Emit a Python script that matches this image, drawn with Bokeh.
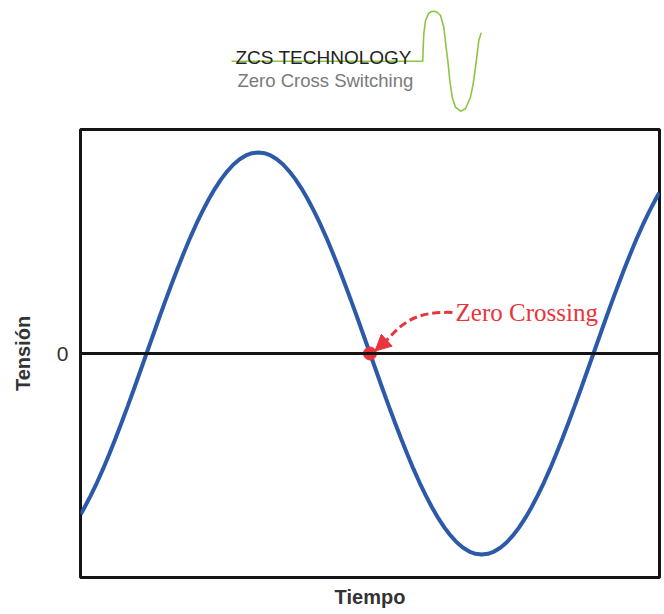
from bokeh.plotting import figure
from bokeh.models import Range1d, Span, FixedTicker, Arrow, NormalHead, Label
from bokeh.layouts import column
from bokeh.embed import file_html
from bokeh.resources import INLINE

# ---------------- data ----------------
# time expressed as phase in degrees, voltage normalised to the peak
time_deg = [-53, -50, -45, -40, -35, -30, -25, -20, -15, -10, -5,
            0, 5, 10, 15, 20, 25, 30, 35, 40, 45, 50, 55, 60, 65, 70, 75, 80, 85, 90,
            95, 100, 105, 110, 115, 120, 125, 130, 135, 140, 145, 150, 155, 160, 165, 170, 175, 180,
            185, 190, 195, 200, 205, 210, 215, 220, 225, 230, 235, 240, 245, 250, 255, 260, 265, 270,
            275, 280, 285, 290, 295, 300, 305, 310, 315, 320, 325, 330, 335, 340, 345, 350, 355, 360,
            365, 370, 375, 380, 385, 390, 395, 400, 405, 410, 413]
voltage = [-0.799, -0.766, -0.707, -0.643, -0.574, -0.500, -0.423, -0.342, -0.259, -0.174, -0.087,
           0.000, 0.087, 0.174, 0.259, 0.342, 0.423, 0.500, 0.574, 0.643, 0.707, 0.766, 0.819, 0.866, 0.906, 0.940, 0.966, 0.985, 0.996, 1.000,
           0.996, 0.985, 0.966, 0.940, 0.906, 0.866, 0.819, 0.766, 0.707, 0.643, 0.574, 0.500, 0.423, 0.342, 0.259, 0.174, 0.087, 0.000,
           -0.087, -0.174, -0.259, -0.342, -0.423, -0.500, -0.574, -0.643, -0.707, -0.766, -0.819, -0.866, -0.906, -0.940, -0.966, -0.985, -0.996, -1.000,
           -0.996, -0.985, -0.966, -0.940, -0.906, -0.866, -0.819, -0.766, -0.707, -0.643, -0.574, -0.500, -0.423, -0.342, -0.259, -0.174, -0.087, 0.000,
           0.087, 0.174, 0.259, 0.342, 0.423, 0.500, 0.574, 0.643, 0.707, 0.766, 0.799]
zero_cross_t = [180]
zero_cross_v = [0]
y_ticks = [0]
annotation_text = "Zero Crossing"
x_label = "Tiempo"
y_label = "Tensión"

# logo (decorative) wave, in page pixels
logo_title = "ZCS TECHNOLOGY"
logo_sub = "Zero Cross Switching"
logo_x = [231, 422.3, 422.7, 423.3, 425, 428.3, 431, 434, 437, 440, 443.3, 446, 447.3,
          449.3, 451.7, 455, 460, 465, 470, 472.7, 475, 476.7, 478.3, 480.7]
logo_y = [60.7, 60.7, 46.7, 33.3, 20, 12.7, 11, 10.7, 12, 15, 26.7, 50, 60,
          80, 96.7, 106.7, 110.7, 108.3, 96.7, 83.3, 66.7, 53.3, 40, 32.3]

# ---------------- styles ----------------
BLUE = "#2d5aa8"
RED = "#e8343c"
GREEN = "#8cc63f"
DARK = "#141414"
W = 664
LEFT, RIGHT = 80, 5

# ---------------- logo figure ----------------
logo = figure(width=W, height=120, output_backend="svg", toolbar_location=None,
              x_range=Range1d(LEFT, W - RIGHT), y_range=Range1d(120, 0),
              min_border_left=LEFT, min_border_right=RIGHT, min_border_top=0,
              min_border_bottom=0, outline_line_color=None,
              x_axis_location=None, y_axis_location=None)
logo.grid.visible = False
logo.line(logo_x, logo_y, line_color=GREEN, line_width=1.6)
logo.add_layout(Label(x=235, y=57, text=logo_title, text_font="Liberation Sans",
                      text_font_size="19px", text_color="#222222",
                      text_baseline="alphabetic"))
logo.add_layout(Label(x=237, y=80, text=logo_sub, text_font="Liberation Sans",
                      text_font_size="18.5px", text_color="#7a7a7a",
                      text_baseline="alphabetic"))

# ---------------- main figure ----------------
p = figure(width=W, height=494, output_backend="svg", toolbar_location=None,
           x_range=Range1d(-53.2, 413.2), y_range=Range1d(-1.114, 1.114),
           min_border_left=LEFT, min_border_right=RIGHT, min_border_top=9,
           min_border_bottom=37, outline_line_color=DARK, outline_line_width=3,
           background_fill_color="white", border_fill_color="white")
p.grid.visible = False

p.yaxis.ticker = FixedTicker(ticks=y_ticks)
p.yaxis.major_tick_line_color = None
p.yaxis.minor_tick_line_color = None
p.yaxis.axis_line_color = None
p.yaxis.major_label_text_font = "Liberation Sans"
p.yaxis.major_label_text_font_size = "21px"
p.yaxis.major_label_text_color = "#333333"
p.yaxis.major_label_standoff = 6
p.yaxis.axis_label = y_label
p.yaxis.axis_label_text_font = "Liberation Sans"
p.yaxis.axis_label_text_font_size = "20px"
p.yaxis.axis_label_text_font_style = "bold"
p.yaxis.axis_label_text_color = "#333333"
p.yaxis.axis_label_standoff = 20

p.xaxis.ticker = FixedTicker(ticks=[])
p.xaxis.major_tick_line_color = None
p.xaxis.minor_tick_line_color = None
p.xaxis.axis_line_color = None
p.xaxis.major_label_standoff = 0
p.xaxis.axis_label = x_label
p.xaxis.axis_label_text_font = "Liberation Sans"
p.xaxis.axis_label_text_font_size = "20px"
p.xaxis.axis_label_text_font_style = "bold"
p.xaxis.axis_label_text_color = "#333333"
p.xaxis.axis_label_standoff = 8

p.add_layout(Span(location=0, dimension="width", line_color=DARK, line_width=3))
p.line(time_deg, voltage, line_color=BLUE, line_width=4)

# annotation: positions relative to the zero crossing (data units)
zx, zy = zero_cross_t[0], zero_cross_v[0]
p.bezier(x0=[zx + 66.4], y0=[zy + 0.204], x1=[zx + 13.3], y1=[zy + 0.065],
         cx0=[zx + 34.2], cy0=[zy + 0.212], cx1=[zx + 24.6], cy1=[zy + 0.139],
         line_color=RED, line_width=3, line_dash="8 4")
p.add_layout(Arrow(x_start=zx + 13.3, y_start=zy + 0.065, x_end=zx + 4.0, y_end=zy + 0.012,
                   line_color=RED, line_width=3,
                   end=NormalHead(size=16, fill_color=RED, line_color=RED)))
p.scatter(zero_cross_t, zero_cross_v, size=13, fill_color=RED, line_color=RED)
p.add_layout(Label(x=zx + 68.9, y=zy + 0.206, text=annotation_text,
                   text_font="Liberation Serif", text_font_size="25px",
                   text_color=RED, text_baseline="alphabetic"))

layout = column(logo, p)
open("out.html", "w").write(file_html(layout, INLINE))
